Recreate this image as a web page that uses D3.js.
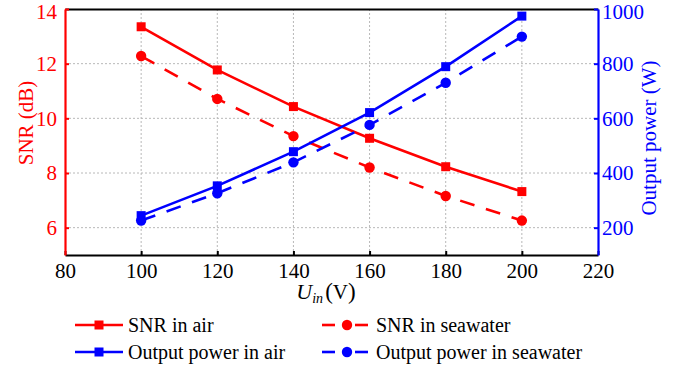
<!DOCTYPE html>
<html><head><meta charset="utf-8">
<script src="https://cdn.jsdelivr.net/npm/d3@7"></script>
<style>body{margin:0;background:#fff;} svg{display:block;}</style>
</head><body>
<script>
const voltages = [100, 120, 140, 160, 180, 200];
const snrAir = [13.35, 11.77, 10.43, 9.27, 8.23, 7.32];
const snrSea = [12.28, 10.71, 9.35, 8.20, 7.16, 6.26];
const powerAir = [244, 353, 478, 621, 789, 974];
const powerSea = [226, 326, 439, 576, 730, 899];
const xTicks = [80, 100, 120, 140, 160, 180, 200, 220];
const snrTicks = [6, 8, 10, 12, 14];
const powerTicks = [200, 400, 600, 800, 1000];
const legendLabels = ["SNR in air", "SNR in seawater", "Output power in air", "Output power in seawater"];

const FONT = "Liberation Serif";
const W = 682, H = 368;
const m = {l: 65, r: 598, t: 9, b: 255};
const RED = "#ff0000", BLUE = "#0000ff";
const svg = d3.select("body").append("svg").attr("width", W).attr("height", H).attr("font-family", FONT);

const x = d3.scaleLinear().domain([80, 220]).range([m.l, m.r]);
const yL = d3.scaleLinear().domain([5, 14]).range([m.b, m.t]);
const yR = d3.scaleLinear().domain([100, 1000]).range([m.b, m.t]);

// grid
const grid = svg.append("g").attr("stroke", "#b8b8b8").attr("stroke-width", 1).attr("stroke-dasharray", "2,2");
xTicks.filter(v => v > 80 && v < 220).forEach(v => grid.append("line").attr("x1", x(v)).attr("x2", x(v)).attr("y1", m.t).attr("y2", m.b));
snrTicks.filter(v => v < 14).forEach(v => grid.append("line").attr("x1", m.l).attr("x2", m.r).attr("y1", yL(v)).attr("y2", yL(v)));

// series
const series = [
  {vals: snrAir, y: yL, color: RED, dash: null, marker: "square"},
  {vals: snrSea, y: yL, color: RED, dash: "15,12", marker: "circle"},
  {vals: powerAir, y: yR, color: BLUE, dash: null, marker: "square"},
  {vals: powerSea, y: yR, color: BLUE, dash: "15,12", marker: "circle"}
];
series.forEach(s => {
  const line = d3.line().x((d, i) => x(voltages[i])).y(d => s.y(d));
  svg.append("path").datum(s.vals).attr("d", line).attr("fill", "none")
    .attr("stroke", s.color).attr("stroke-width", 2.6).attr("stroke-dasharray", s.dash);
  s.vals.forEach((v, i) => drawMarker(svg, s.marker, x(voltages[i]), s.y(v), s.color));
});

function drawMarker(g, type, cx, cy, color) {
  if (type === "square") g.append("rect").attr("x", cx - 4.5).attr("y", cy - 4.5).attr("width", 9).attr("height", 9).attr("fill", color);
  else g.append("circle").attr("cx", cx).attr("cy", cy).attr("r", 5.2).attr("fill", color);
}

// axes
const fmt = d3.format("d");
const axB = svg.append("g").attr("transform", `translate(0,${m.b})`)
  .call(d3.axisBottom(x).tickValues(xTicks).tickFormat(fmt).tickSize(-4).tickPadding(8).tickSizeOuter(0));
const axT = svg.append("g").attr("transform", `translate(0,${m.t})`)
  .call(d3.axisTop(x).tickValues([]).tickSizeOuter(0));
const axL = svg.append("g").attr("transform", `translate(${m.l},0)`)
  .call(d3.axisLeft(yL).tickValues(snrTicks).tickFormat(fmt).tickSize(-4).tickPadding(8).tickSizeOuter(0));
const axR = svg.append("g").attr("transform", `translate(${m.r},0)`)
  .call(d3.axisRight(yR).tickValues(powerTicks).tickFormat(fmt).tickSize(-4).tickPadding(4).tickSizeOuter(0));

function style(ax, color) {
  ax.attr("font-family", FONT);
  ax.select(".domain").attr("stroke", color).attr("stroke-width", 2.2);
  ax.selectAll(".tick line").attr("stroke", color).attr("stroke-width", 2);
  ax.selectAll(".tick text").attr("fill", color).attr("font-size", 21).attr("font-family", FONT);
}
style(axB, "#000"); style(axT, "#000"); style(axL, RED); style(axR, BLUE);
axB.selectAll(".tick text").attr("dy", "0.71em");
axL.select(".tick:last-of-type text").attr("dy", "0.45em");
axR.select(".tick:last-of-type text").attr("dy", "0.45em");

// axis titles
svg.append("text").attr("transform", "translate(33,123) rotate(-90)").attr("text-anchor", "middle")
  .attr("font-family", FONT).attr("fill", RED).attr("font-size", 21).text("SNR (dB)");
svg.append("text").attr("transform", "translate(656,138) rotate(-90)").attr("text-anchor", "middle")
  .attr("font-family", FONT).attr("fill", BLUE).attr("font-size", 21).text("Output power (W)");
const xt = svg.append("text").attr("x", 326).attr("y", 299).attr("text-anchor", "middle")
  .attr("font-family", FONT).attr("fill", "#000");
xt.append("tspan").attr("font-style", "italic").attr("font-size", 22).text("U");
xt.append("tspan").attr("font-style", "italic").attr("font-size", 14).attr("dy", 4).text("in");
xt.append("tspan").attr("font-size", 23).attr("dy", -4).attr("dx", 2).text("(");
xt.append("tspan").attr("font-size", 21).text("V");
xt.append("tspan").attr("font-size", 23).text(")");

// legend
const legPos = [[75, 325], [322, 325], [75, 352], [322, 352]];
series.forEach((s, i) => {
  const [lx, ly] = legPos[i];
  const g = svg.append("g");
  let tx;
  if (s.dash) {
    [[lx, lx + 13], [lx + 33, lx + 46]].forEach(([a, b]) =>
      g.append("line").attr("x1", a).attr("x2", b).attr("y1", ly).attr("y2", ly)
        .attr("stroke", s.color).attr("stroke-width", 2.6));
    drawMarker(g, s.marker, lx + 25, ly, s.color);
    tx = lx + 54;
  } else {
    g.append("line").attr("x1", lx).attr("x2", lx + 48).attr("y1", ly).attr("y2", ly)
      .attr("stroke", s.color).attr("stroke-width", 2.6);
    drawMarker(g, s.marker, lx + 24, ly, s.color);
    tx = lx + 53;
  }
  g.append("text").attr("x", tx).attr("y", ly + 6.5).attr("font-size", 20)
    .attr("font-family", FONT).attr("fill", "#000").text(legendLabels[i]);
});
</script>
</body></html>
